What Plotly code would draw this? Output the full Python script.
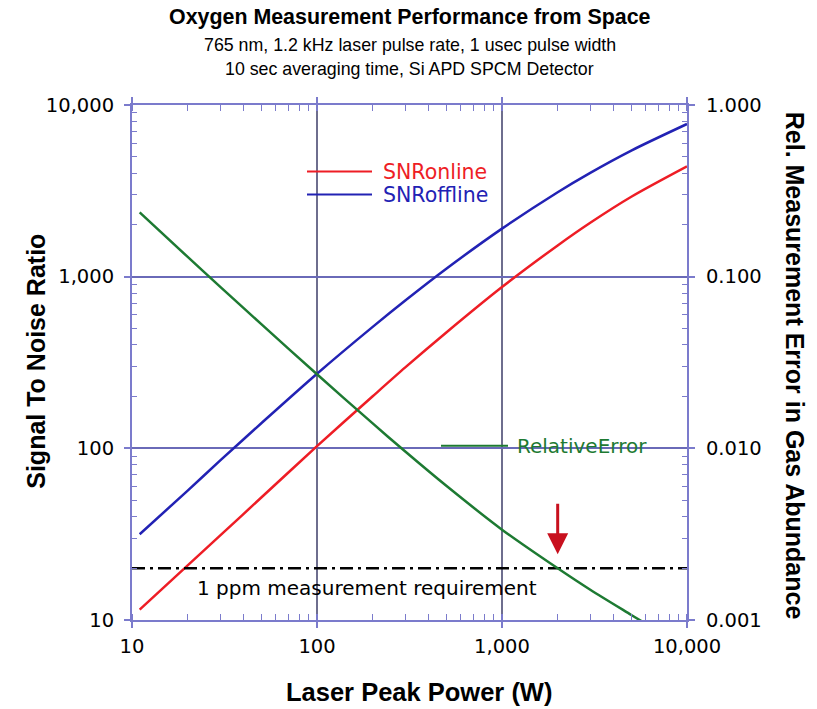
import math
import plotly.graph_objects as go

# Laser peak power (W)
power_w = [11, 20, 30, 50, 100, 200, 300, 500, 1000, 2000, 3000, 5000, 10000]

# Signal-to-noise ratios for the on-line and off-line channels
snr_online = [11.5, 20.8, 31.1, 51.7, 103, 201, 296, 473, 870, 1520, 2060, 2920, 4390]
snr_offline = [31.6, 56.7, 85.0, 140, 272, 510, 726, 1112, 1905, 3105, 4026, 5427, 7750]

# Relative measurement error in gas abundance
rel_error = [0.237, 0.1303, 0.0872, 0.0529, 0.0270, 0.01397, 0.00958, 0.00605,
             0.00336, 0.00200, 0.00150, 0.00107, 0.00068]

# 1 ppm requirement, expressed as SNR, and the power where it is met
requirement_snr = 20
requirement_power = 2000

snr_ticks = [10, 100, 1000, 10000]
snr_ticktext = ["10", "100", "1,000", "10,000"]
err_ticks = [0.001, 0.01, 0.1, 1]
err_ticktext = ["0.001", "0.010", "0.100", "1.000"]
power_ticks = [10, 100, 1000, 10000]
power_ticktext = ["10", "100", "1,000", "10,000"]

RED = "#ee1d25"
BLUE = "#2222b4"
GREEN = "#1d7a32"
FRAME = "#7b7bcc"
SANS = "DejaVu Sans, Verdana, sans-serif"
ARIAL = "Liberation Sans, Arial, sans-serif"


def minor_vals(lo_exp, hi_exp):
    return [m * 10 ** e for e in range(lo_exp, hi_exp) for m in range(2, 10)]


fig = go.Figure()

curve = dict(width=2.5, shape="spline", smoothing=0.8)
fig.add_trace(go.Scatter(x=power_w, y=snr_online, mode="lines",
                         line=dict(color=RED, **curve), name="SNRonline"))
fig.add_trace(go.Scatter(x=power_w, y=snr_offline, mode="lines",
                         line=dict(color=BLUE, **curve), name="SNRoffline"))
fig.add_trace(go.Scatter(x=[10, 10000], y=[requirement_snr, requirement_snr], mode="lines",
                         line=dict(color="black", width=2.5, dash="13px,5px,3px,5px"),
                         name="requirement"))
fig.add_trace(go.Scatter(x=power_w, y=rel_error, mode="lines", yaxis="y2",
                         line=dict(color=GREEN, **curve), name="RelativeError"))


def minor(vals):
    return dict(ticks="inside", ticklen=5, tickcolor=FRAME, tickwidth=1,
                showgrid=False, tickmode="array", tickvals=vals)


tickfont = dict(family=SANS, size=19.5, color="black")

fig.update_layout(
    width=817, height=709,
    margin=dict(l=132, r=130, t=105, b=89),
    paper_bgcolor="white", plot_bgcolor="white",
    showlegend=False,
    font=dict(family=SANS, color="black", size=18),
    xaxis=dict(
        type="log", range=[1, 4],
        tickvals=power_ticks, ticktext=power_ticktext,
        ticks="outside", ticklen=6, tickcolor=FRAME, tickwidth=1.5,
        showline=True, linecolor=FRAME, linewidth=2, mirror="allticks",
        showgrid=True, gridcolor="#6e6e8e", gridwidth=1.5,
        minor=minor(minor_vals(1, 4)), zeroline=False,
        tickfont=tickfont, ticklabelstandoff=2,
    ),
    yaxis=dict(
        type="log", range=[1, 4],
        tickvals=snr_ticks, ticktext=snr_ticktext,
        ticks="outside", ticklen=6, tickcolor=FRAME, tickwidth=1.5,
        showline=True, linecolor=FRAME, linewidth=2, mirror="allticks",
        showgrid=True, gridcolor="#6a6ab8", gridwidth=1.5,
        minor=minor(minor_vals(1, 4)), zeroline=False,
        tickfont=tickfont, ticklabelstandoff=6,
    ),
    yaxis2=dict(
        type="log", range=[-3, 0], overlaying="y", side="right",
        tickvals=err_ticks, ticktext=err_ticktext,
        ticks="outside", ticklen=6, tickcolor=FRAME, tickwidth=1.5,
        showline=False, showgrid=False, zeroline=False,
        tickfont=tickfont, ticklabelstandoff=8,
    ),
)


def py(pixel_y):
    return (620 - pixel_y) / 514.5


def px(pixel_x):
    return (pixel_x - 132) / 555


annotations = [
    dict(text="<b>Oxygen Measurement Performance from Space</b>", x=0.5, y=py(18),
         font=dict(family=ARIAL, size=21.4)),
    dict(text="765 nm, 1.2 kHz laser pulse rate, 1 usec pulse width", x=0.5, y=py(46),
         font=dict(family=ARIAL, size=17.8)),
    dict(text="10 sec averaging time, Si APD SPCM Detector", x=0.5, y=py(70),
         font=dict(family=ARIAL, size=17.8)),
    dict(text="<b>Laser Peak Power (W)</b>", x=px(419), y=py(692),
         font=dict(family=ARIAL, size=25.5)),
    dict(text="<b>Signal To Noise Ratio</b>", x=px(36), y=py(362), textangle=-90,
         font=dict(family=ARIAL, size=25)),
    dict(text="<b>Rel. Measurement Error in Gas Abundance</b>", x=px(795), y=py(366),
         textangle=90, font=dict(family=ARIAL, size=25)),
    dict(text="SNRonline", x=px(381), y=py(172), xanchor="left",
         font=dict(size=20.5, color=RED)),
    dict(text="SNRoffline", x=px(381), y=py(195), xanchor="left",
         font=dict(size=20.5, color=BLUE)),
    dict(text="RelativeError", x=px(515), y=py(446), xanchor="left",
         font=dict(size=20, color=GREEN)),
    dict(text="1 ppm measurement requirement", x=px(195), y=py(588), xanchor="left",
         font=dict(size=20)),
]
for a in annotations:
    a.setdefault("xanchor", "center")
    fig.add_annotation(xref="paper", yref="paper", showarrow=False, yanchor="middle", **a)

# Arrow marking the power at which the requirement is met
fig.add_annotation(
    x=math.log10(requirement_power), y=math.log10(requirement_snr),
    xref="x", yref="y", text="", showarrow=True,
    ax=0, ay=-66, standoff=14,
    arrowhead=2, arrowsize=1.4, arrowwidth=3, arrowcolor="#c8101e",
)

# Legend samples
for y_pix, color in [(172, RED), (195, BLUE)]:
    fig.add_shape(type="line", xref="paper", yref="paper",
                  x0=px(307), x1=px(372), y0=py(y_pix), y1=py(y_pix),
                  line=dict(color=color, width=2))
fig.add_shape(type="line", xref="paper", yref="paper",
              x0=px(441), x1=px(508), y0=py(446), y1=py(446),
              line=dict(color=GREEN, width=2))

fig.write_html("out.html")
